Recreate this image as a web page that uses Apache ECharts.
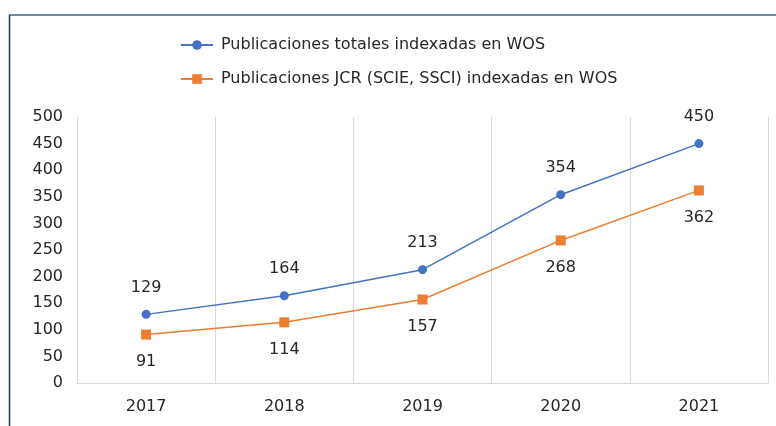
<!DOCTYPE html>
<html><head><meta charset="utf-8">
<script src="https://cdn.jsdelivr.net/npm/echarts@6/dist/echarts.min.js"></script>
<style>html,body{margin:0;padding:0;background:#fff}#c{width:776px;height:426px}</style>
</head><body><div id="c"></div>
<script>
const categories = ['2017','2018','2019','2020','2021'];
const totalName = 'Publicaciones totales indexadas en WOS';
const jcrName = 'Publicaciones JCR (SCIE, SSCI) indexadas en WOS';
const totalValues = [129,164,213,354,450];
const jcrValues = [91,114,157,268,362];
const yTicks = [0,50,100,150,200,250,300,350,400,450,500];

const font = '"DejaVu Sans", "Open Sans", sans-serif';
const txt = '#262626';
const chart = echarts.init(document.getElementById('c'));
chart.setOption({
  animation:false,
  textStyle:{fontFamily:font},
  graphic:[
    {type:'line',shape:{x1:9,y1:15,x2:776,y2:15},style:{stroke:'#6f8ea3',lineWidth:2}},
    {type:'line',shape:{x1:9.5,y1:15,x2:9.5,y2:426},style:{stroke:'#1f3864',lineWidth:1.5}}
  ],
  legend:{
    orient:'vertical',left:175,top:29,itemGap:12,itemWidth:32,itemHeight:12,
    textStyle:{fontSize:16,color:txt,fontFamily:font,padding:[0,0,0,3],lineHeight:22},
    data:[{name:totalName},{name:jcrName}]
  },
  grid:{left:77,right:8,top:117,bottom:43},
  xAxis:{
    type:'category',data:categories,boundaryGap:true,
    axisLine:{show:true,lineStyle:{color:'#d9d9d9',width:1}},
    axisTick:{show:false},
    axisLabel:{fontSize:16,color:txt,margin:16,fontFamily:font},
    splitLine:{show:true,lineStyle:{color:'#d9d9d9',width:1}}
  },
  yAxis:{
    type:'value',min:yTicks[0],max:yTicks[yTicks.length-1],interval:50,
    axisLine:{show:false},axisTick:{show:false},
    splitLine:{show:false},
    axisLabel:{fontSize:16,color:txt,margin:14,fontFamily:font}
  },
  series:[
    {name:totalName,type:'line',data:totalValues,symbol:'circle',symbolSize:9,
     itemStyle:{color:'#4472c4'},lineStyle:{color:'#4472c4',width:1.5},
     label:{show:true,position:'top',distance:14,fontSize:16,color:txt,fontFamily:font}},
    {name:jcrName,type:'line',data:jcrValues,symbol:'rect',symbolSize:10,
     itemStyle:{color:'#ed7d31'},lineStyle:{color:'#ed7d31',width:1.5},
     label:{show:true,position:'bottom',distance:14,fontSize:16,color:txt,fontFamily:font}}
  ]
});
</script></body></html>
